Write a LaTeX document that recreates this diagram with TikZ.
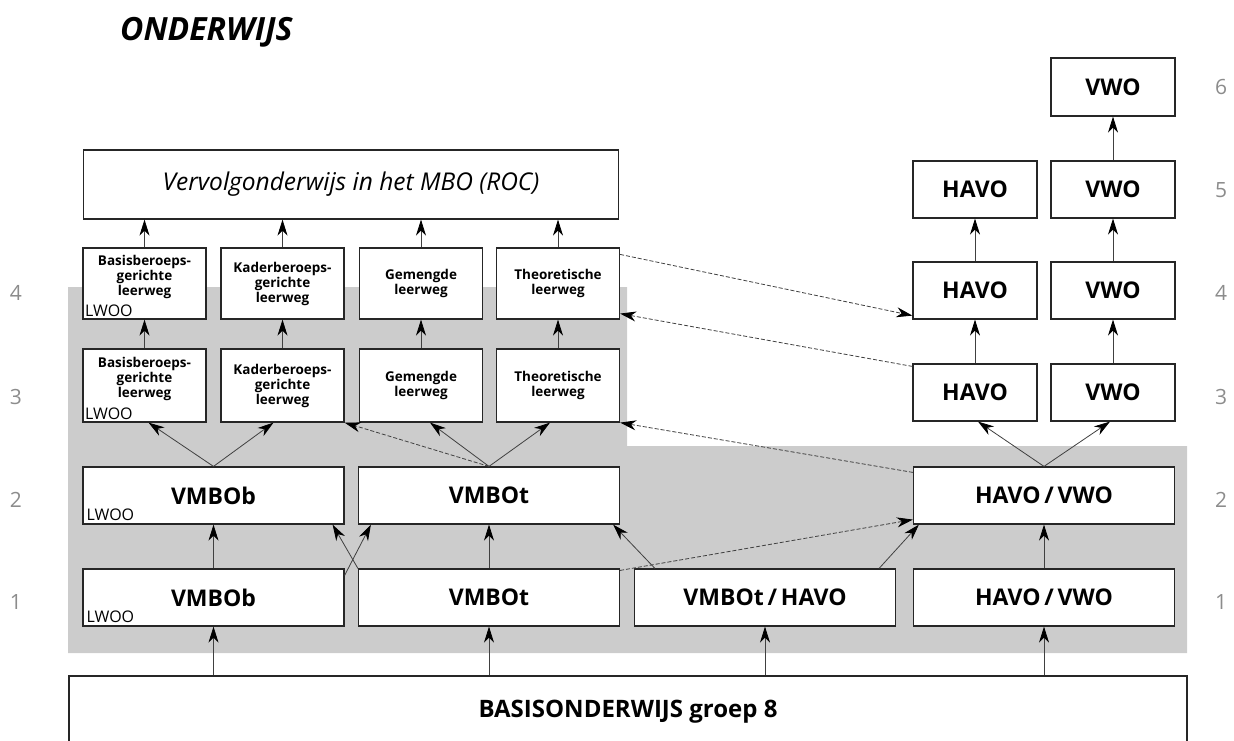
\documentclass[tikz,border=0pt]{standalone}
\usepackage{fontspec}
\setmainfont{Open Sans}
\usetikzlibrary{arrows.meta}

\definecolor{pale}{gray}{0.8}
\definecolor{grade}{gray}{0.55}

\begin{document}
\begin{tikzpicture}[x=1pt, y=-1pt,
    box/.style={draw=black!85, fill=white, line width=1.2pt, inner sep=0pt,
      minimum height=57pt, font=\fontsize{23}{26}\selectfont\bfseries},
    wide/.style={box, minimum width=261pt},
    narrow/.style={box, minimum width=124pt},
    leerweg/.style={box, minimum width=123pt, align=center,
      font=\fontsize{13.5}{15}\selectfont\bfseries},
    lwoo/.style={anchor=south west, inner sep=2.5pt, font=\fontsize{16}{16}\selectfont},
    nr/.style={text=grade, font=\fontsize{21}{21}\selectfont},
    up/.style={-{Stealth[length=16pt,width=10pt,inset=5pt,black]}, line width=0.8pt, black!75},
    jump/.style={up, dash pattern=on 4pt off 2pt}]

\useasboundingbox (0,0) rectangle (1234,740);

% title
\node[font=\fontsize{32}{32}\selectfont\bfseries\itshape, anchor=base west, inner sep=0pt]
  (title) at (120,40) {ONDERWIJS};

% grey area
\fill[pale] (68,287) -- (627,287) -- (627,446) -- (1187,446) -- (1187,653) -- (68,653) -- cycle;

% vmbo side
\node[box, minimum width=535pt, minimum height=69pt, font=\fontsize{24.5}{26}\selectfont\itshape]
  (mbo) at (351,184.5) {Vervolgonderwijs in het MBO (ROC)};

\node[leerweg, minimum height=71pt] (r4a) at (144.5,283.5) {Basisberoeps-\\gerichte\\leerweg\\[1pt]\mbox{}};
\node[leerweg, minimum height=71pt] (r4b) at (282.5,283.5) {Kaderberoeps-\\gerichte\\leerweg};
\node[leerweg, minimum height=71pt] (r4c) at (421,283.5) {Gemengde\\leerweg};
\node[leerweg, minimum height=71pt] (r4d) at (558,283.5) {Theoretische\\leerweg};
\node[lwoo] (lw4) at (r4a.south west) {LWOO};

\node[leerweg, minimum height=73pt] (r3a) at (144.5,385.5) {Basisberoeps-\\gerichte\\leerweg\\[1pt]\mbox{}};
\node[leerweg, minimum height=73pt] (r3b) at (282.5,385.5) {Kaderberoeps-\\gerichte\\leerweg};
\node[leerweg, minimum height=73pt] (r3c) at (421,385.5) {Gemengde\\leerweg};
\node[leerweg, minimum height=73pt] (r3d) at (558,385.5) {Theoretische\\leerweg};
\node[lwoo] (lw3) at (r3a.south west) {LWOO};

\node[wide] (v2b) at (213.5,495.5) {VMBOb};
\node[wide] (v2t) at (489,495.5) {VMBOt};
\node[wide] (hv2) at (1044,495.5) {HAVO\thinspace/\thinspace VWO};
\node[lwoo, inner sep=4pt] (lw2) at (v2b.south west) {LWOO};

\node[wide] (v1b) at (213.5,597.5) {VMBOb};
\node[wide] (v1t) at (489,597.5) {VMBOt};
\node[wide] (vh1) at (765,597.5) {VMBOt\thinspace/\thinspace HAVO};
\node[wide] (hv1) at (1044,597.5) {HAVO\thinspace/\thinspace VWO};
\node[lwoo, inner sep=4pt] (lw1) at (v1b.south west) {LWOO};

% havo / vwo side
\node[narrow] (h3) at (975,392.5) {HAVO};
\node[narrow] (h4) at (975,290.5) {HAVO};
\node[narrow] (h5) at (975,189.5) {HAVO};
\node[narrow] (w3) at (1113,392.5) {VWO};
\node[narrow] (w4) at (1113,290.5) {VWO};
\node[narrow] (w5) at (1113,189.5) {VWO};
\node[narrow, minimum height=58pt] (w6) at (1113,87) {VWO};

\node[box, minimum width=1118pt, minimum height=72pt, font=\fontsize{24}{26}\selectfont\bfseries]
  (basis) at (628,712) {BASISONDERWIJS groep 8};

% leerjaren
\foreach \y/\n in {602/1,500/2,397/3,293/4}
  \node[nr] (l\n) at (16,\y) {\n};
\foreach \y/\n in {602/1,500/2,397/3,293/4,190/5,87/6}
  \node[nr] (r\n) at (1221,\y) {\n};

% arrows
\foreach \c in {a,b,c,d} {
  \draw[up] (r4\c.north) -- (r4\c.north |- mbo.south);
  \draw[up] (r3\c.north) -- (r4\c.south);
}
\draw[up] (v2b.north) -- ([xshift=4pt]r3a.south);
\draw[up] (v2b.north) -- ([xshift=-9pt]r3b.south);
\draw[jump] (v2t.north) -- (r3b.south east);
\draw[up] (v2t.north) -- ([xshift=9pt]r3c.south);
\draw[up] (v2t.north) -- ([xshift=-8pt]r3d.south);
\draw[jump] ([yshift=-6pt]hv2.north west) -- (r3d.south east);
\draw[up] (hv2.north) -- ([xshift=3pt]h3.south);
\draw[up] (hv2.north) -- ([xshift=-3pt]w3.south);
\draw[jump] ([yshift=-7pt]r4d.north east) -- ([yshift=4pt]h4.south west);
\draw[jump] ([yshift=-3pt]h3.north west) -- ([yshift=6pt]r4d.south east);

\draw[up] (h3.north) -- (h4.south);
\draw[up] (h4.north) -- (h5.south);
\draw[up] (w3.north) -- (w4.south);
\draw[up] (w4.north) -- (w5.south);
\draw[up] (w5.north) -- (w6.south);

\draw[up] (v1b.north) -- (v2b.south);
\draw[up] ([yshift=-7pt]v1b.north east) -- ([xshift=13pt]v2t.south west);
\draw[up] (v1t.north west) -- ([xshift=-12pt]v2b.south east);
\draw[up] (v1t.north) -- (v2t.south);
\draw[up] ([xshift=21pt]vh1.north west) -- ([xshift=-7pt]v2t.south east);
\draw[jump] ([yshift=-2pt]v1t.north east) -- ([yshift=5pt]hv2.south west);
\draw[up] ([xshift=-17pt]vh1.north east) -- ([xshift=6pt]hv2.south west);
\draw[up] (hv1.north) -- (hv2.south);

\foreach \n in {v1b,v1t,vh1,hv1}
  \draw[up] (\n.north |- basis.north) -- (\n.south);
\end{tikzpicture}
\end{document}
